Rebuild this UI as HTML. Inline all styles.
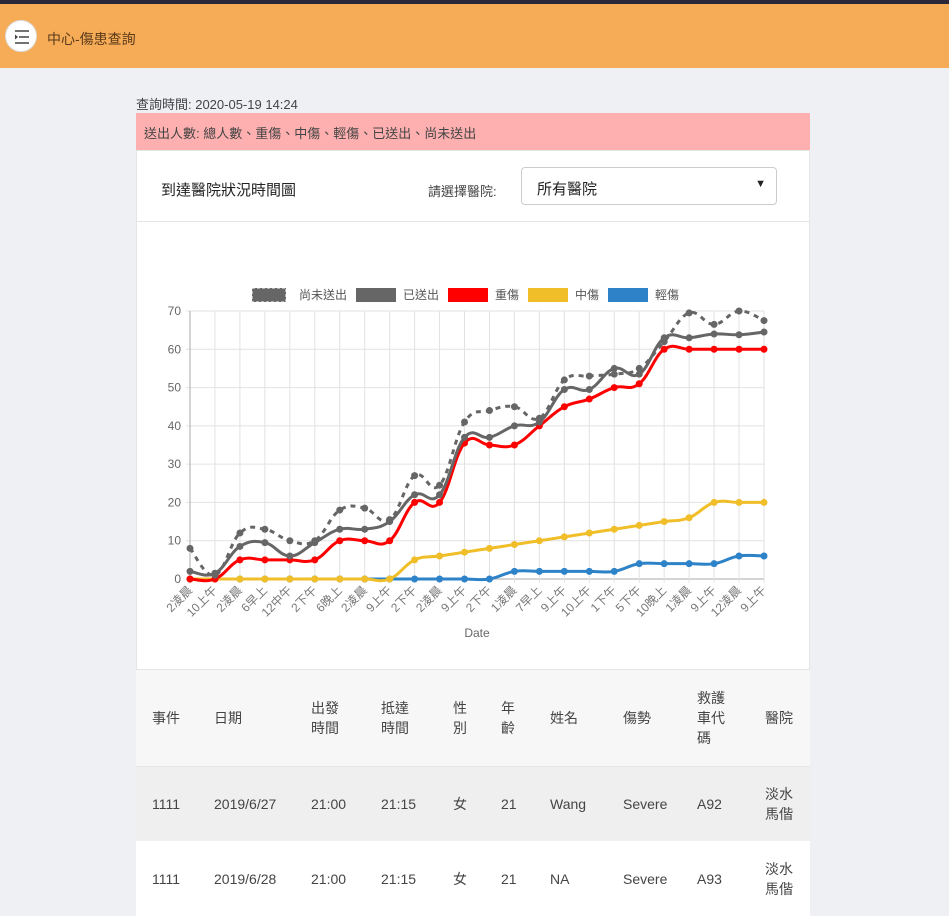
<!DOCTYPE html>
<html><head><meta charset="utf-8">
<style>
*{box-sizing:border-box}
body{margin:0;width:949px;height:889px;overflow:hidden;background:#eff0f4;font-family:"Liberation Sans","Noto Sans CJK TC",sans-serif;color:#333;position:relative}
.top{position:absolute;left:0;top:0;width:949px;height:4px;background:#2a2838}
.bar{position:absolute;left:0;top:4px;width:949px;height:64px;background:#f6ac57}
.menu{position:absolute;left:5px;top:16px;width:32px;height:32px;border-radius:50%;background:#fff;border:1px solid #ddd}
.title{position:absolute;left:47px;top:25px;font-size:14px;color:#5a3a1a}
.abs{position:absolute}
.card{position:absolute;left:136px;top:150px;width:674px;height:520px;background:#fff;border:1px solid #e5e5e5}
table{position:absolute;left:136px;top:670px;width:674px;border-collapse:collapse;font-size:14px;color:#444;table-layout:fixed}
td{padding:0;vertical-align:middle}
td:first-child{padding-left:16px}
</style></head><body>
<div class="top"></div>
<div class="bar">
<div class="menu"><svg width="32" height="32"><path d="M9 10h14M13 16h10M9 22h14" stroke="#444" stroke-width="1.6"/><path d="M9 13.5l3 2.5-3 2.5z" fill="#444"/></svg></div>
<div class="title">中心-傷患查詢</div>
</div>
<div class="abs" style="left:136px;top:94px;font-size:13px;color:#444">查詢時間: 2020-05-19 14:24</div>
<div class="abs" style="left:136px;top:113px;width:674px;height:38px;background:#feb0b0;font-size:13px;color:#444;padding:10px 0 0 8px">送出人數: 總人數、重傷、中傷、輕傷、已送出、尚未送出</div>
<div class="card">
<div class="abs" style="left:24px;top:28px;font-size:15px;color:#222">到達醫院狀況時間圖</div>
<div class="abs" style="left:291px;top:30px;font-size:13px;color:#444">請選擇醫院:</div>
<div class="abs" style="left:384px;top:16px;width:256px;height:38px;border:1px solid #ccc;border-radius:4px;font-size:15px;padding:10px 0 0 15px;color:#222">所有醫院<span style="position:absolute;right:10px;top:10px;font-size:11px">▼</span></div>
<div class="abs" style="left:0;top:70px;width:672px;height:1px;background:#e5e5e5"></div>
</div>
<svg class="abs" style="left:0;top:0" width="949" height="670" id="chart"></svg>
<table>
<colgroup><col style="width:78px"><col style="width:97px"><col style="width:70px"><col style="width:72px"><col style="width:48px"><col style="width:49px"><col style="width:73px"><col style="width:74px"><col style="width:68px"><col style="width:45px"></colgroup>
<tr style="height:96px;background:#f7f7f7"><td>事件</td><td>日期</td><td>出發<br>時間</td><td>抵達<br>時間</td><td>性<br>別</td><td>年<br>齡</td><td>姓名</td><td>傷勢</td><td>救護<br>車代<br>碼</td><td>醫院</td></tr>
<tr style="height:75px;background:#efefef;border-top:1px solid #e5e5e5"><td>1111</td><td>2019/6/27</td><td>21:00</td><td>21:15</td><td>女</td><td>21</td><td>Wang</td><td>Severe</td><td>A92</td><td>淡水<br>馬偕</td></tr>
<tr style="height:75px;background:#fff"><td>1111</td><td>2019/6/28</td><td>21:00</td><td>21:15</td><td>女</td><td>21</td><td>NA</td><td>Severe</td><td>A93</td><td>淡水<br>馬偕</td></tr>
</table>
<script>
const categories=["2凌晨","10上午","2凌晨","6早上","12中午","2下午","6晚上","2凌晨","9上午","2下午","2凌晨","9上午","2下午","1凌晨","7早上","9上午","10上午","1下午","5下午","10晚上","1凌晨","9上午","12凌晨","9上午"];
const notSent=[8,1,12,13,10,10,18,18.5,15.5,27,24.5,41,44,45,42,52,53,53.5,55,62,69.5,66.5,70,67.5];
const sent=[2,1.5,8.5,9.5,6,9.5,13,13,15,22,22,37,37,40,41,49.5,49.5,55,53.5,63,63,64,63.8,64.5];
const severe=[0,0,5,5,5,5,10,10,10,20,20,35.5,35,35,40,45,47,50,51,60,60,60,60,60];
const moderate=[0,0,0,0,0,0,0,0,0,5,6,7,8,9,10,11,12,13,14,15,16,20,20,20];
const mild=[0,0,0,0,0,0,0,0,0,0,0,0,0,2,2,2,2,2,4,4,4,4,6,6];
const yTicks=[0,10,20,30,40,50,60,70];
const legendLabels=["尚未送出","已送出","重傷","中傷","輕傷"];
const svg=document.getElementById('chart');const NS='http://www.w3.org/2000/svg';
const X0=190,X1=764,Y0=579,Y1=311,YMAX=70;
const xs=i=>X0+i*(X1-X0)/(categories.length-1);
const ys=v=>Y0-v*(Y0-Y1)/YMAX;
function mk(t,a,p){const e=document.createElementNS(NS,t);for(const k in a)e.setAttribute(k,a[k]);(p||svg).appendChild(e);return e;}
const grid=mk('g',{});
yTicks.forEach(v=>{mk('line',{x1:186,x2:X1,y1:ys(v),y2:ys(v),stroke:v===0?'#aaa':'#e2e2e2'},grid);
const t=mk('text',{x:181,y:ys(v)+4,'text-anchor':'end','font-size':12,fill:'#666'});t.textContent=v;
});
categories.forEach((c,i)=>{mk('line',{x1:xs(i),x2:xs(i),y1:Y1,y2:Y0+4,stroke:i===0?'#aaa':'#e2e2e2'},grid);
const t=mk('text',{x:xs(i)+3,y:Y0+12,'text-anchor':'end','font-size':12,fill:'#777',transform:`rotate(-45 ${xs(i)+3} ${Y0+12})`});t.textContent=c;
});
const xt=mk('text',{x:477,y:637,'text-anchor':'middle','font-size':12,fill:'#666'});xt.textContent='Date';

function path(vals){const p=vals.map((v,i)=>[xs(i),ys(v)]);let d=`M${p[0][0]},${p[0][1]}`;const t=0.4;
for(let i=0;i<p.length-1;i++){const a=p[i-1]||p[i],b=p[i],c=p[i+1],e=p[i+2]||c;
const c1=[b[0]+(c[0]-a[0])*t/2,b[1]+(c[1]-a[1])*t/2],c2=[c[0]-(e[0]-b[0])*t/2,c[1]-(e[1]-b[1])*t/2];
d+=` C${c1[0]},${c1[1]} ${c2[0]},${c2[1]} ${c[0]},${c[1]}`;}return d;}
const series=[[notSent,'#666','5,5','series-not-sent'],[sent,'#666',null,'series-sent'],[severe,'#f00',null,'series-severe'],[moderate,'#f0be28',null,'series-moderate'],[mild,'#2d82c8',null,'series-mild']];
series.slice().reverse().forEach(([vals,col,dash,name])=>{const g=mk('g',{});

const a={d:path(vals),fill:'none',stroke:col,'stroke-width':3};if(dash)a['stroke-dasharray']=dash;mk('path',a,g);
vals.forEach((v,i)=>{const c=mk('circle',{cx:xs(i),cy:ys(v),r:3.5,fill:col},g);
});});
const lx=[252,356,448,528,608];
legendLabels.forEach((l,i)=>{const g=mk('g',{});
const s=series[i];const r={x:lx[i],y:288,width:i===0?34:40,height:14,fill:s[1]};if(i===0){r['stroke-dasharray']='3,2';r.stroke='#fff';}
mk('rect',r,g);const t=mk('text',{x:lx[i]+47,y:299,'font-size':12,fill:'#555'},g);t.textContent=l;});
</script>
</body></html>
